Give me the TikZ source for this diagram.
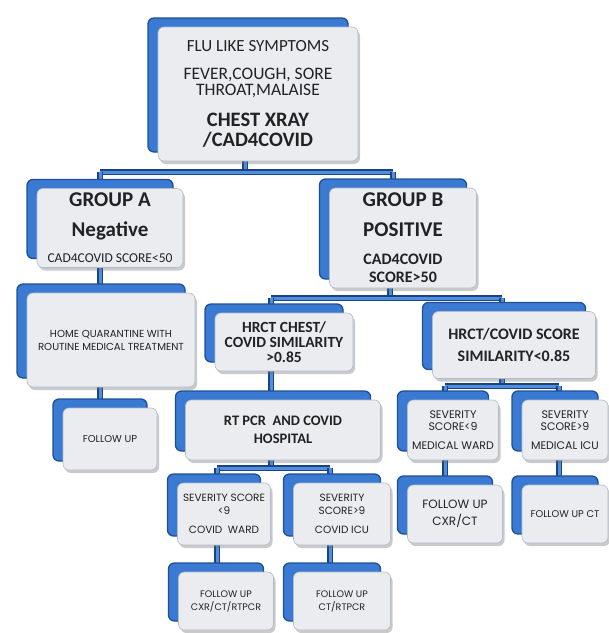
\documentclass[tikz,border=0pt]{standalone}
\usepackage{fontspec}
\setmainfont{Carlito}
\newfontfamily\geo{Poppins}
\usetikzlibrary{shadows}

\definecolor{cardblue}{HTML}{3B7AD3}
\definecolor{cardedge}{HTML}{1F4E93}
\definecolor{cardface}{HTML}{EAECF0}
\definecolor{faceedge}{HTML}{B0BCCE}
\definecolor{linkblue}{HTML}{4F8FE0}
\definecolor{linkedge}{HTML}{1C4380}
\definecolor{ink}{HTML}{222222}

\newcommand\sz[2]{\fontsize{#1}{#2}\selectfont}

\pgfdeclarelayer{bg}
\pgfsetlayers{bg,main}

\tikzset{
  card/.style={draw=faceedge, fill=cardface, line width=0.6pt, rounded corners=6pt,
    align=center, inner sep=2pt, text=ink,
    drop shadow={shadow xshift=2pt, shadow yshift=-3pt, opacity=0.35, fill=black!60},
    copy shadow={shadow xshift=-10pt, shadow yshift=9pt, fill=cardblue, draw=cardedge, line width=1.3pt}},
  link/.style={draw=linkedge, line width=1.1pt, double=linkblue, double distance=3pt}
}

\begin{document}
\begin{tikzpicture}[x=1pt,y=-1pt]
\useasboundingbox (0,0) rectangle (609,633);

% first level
\node[card, minimum width=200pt, minimum height=134pt, font=\sz{17.5}{16}] (top) at (258,94)
  {{\sz{17}{16}FLU LIKE SYMPTOMS}\\[12pt]
   FEVER,COUGH, SORE\\THROAT,MALAISE\\[15pt]
   {\sz{20.5}{16}\bfseries CHEST XRAY}\\[4pt]{\sz{20.5}{16}\bfseries /CAD4COVID}};

% groups
\node[card, minimum width=146pt, minimum height=79pt, font=\sz{21}{18}\bfseries] (grpA) at (110,228)
  {GROUP A\\[12pt]Negative\\[8pt]{\sz{13.5}{13}\mdseries CAD4COVID SCORE<50}};
\node[card, minimum width=147pt, minimum height=100pt, font=\sz{21}{18}\bfseries] (grpB) at (403,238)
  {GROUP B\\[12pt]POSITIVE\\[10pt]{\sz{16}{16}CAD4COVID}\\{\sz{16}{16}SCORE>50}};

% group A branch
\node[card, minimum width=168pt, minimum height=94pt, font=\geo\sz{10.2}{13}] (home) at (111,340)
  {HOME QUARANTINE WITH\\ROUTINE MEDICAL TREATMENT};
\node[card, minimum width=94pt, minimum height=62pt, font=\geo\sz{10}{12}] (fupA) at (110,439)
  {FOLLOW UP};

% group B branch
\node[card, minimum width=138pt, minimum height=58pt, font=\sz{15.5}{15}\bfseries] (hrctA) at (284,342)
  {HRCT CHEST/\\COVID SIMILARITY\\>0.85};
\node[card, minimum width=163pt, minimum height=67pt, font=\sz{16}{22}\bfseries] (hrctB) at (514,345)
  {HRCT/COVID SCORE\\SIMILARITY<0.85};

\node[card, minimum width=195pt, minimum height=60pt, font=\sz{14.5}{18}\bfseries] (rtpcr) at (283,430)
  {RT PCR\ \ AND COVID\\HOSPITAL};
\node[card, minimum width=93pt, minimum height=62pt, font=\geo\sz{10.5}{13}] (sevW) at (224,514)
  {SEVERITY SCORE\\<9\\[6pt]COVID\ \ WARD};
\node[card, minimum width=97pt, minimum height=62pt, font=\geo\sz{10.5}{13}] (sevI) at (342,514)
  {SEVERITY\\SCORE>9\\[6pt]COVID ICU};
\node[card, minimum width=95pt, minimum height=58pt, font=\geo\sz{9.5}{13}] (fupW) at (226,601)
  {FOLLOW UP\\CXR/CT/RTPCR};
\node[card, minimum width=97pt, minimum height=58pt, font=\geo\sz{9.5}{13}] (fupI) at (342,601)
  {FOLLOW UP\\CT/RTPCR};

\node[card, minimum width=91pt, minimum height=60pt, font=\geo\sz{11}{12}] (medW) at (453,430)
  {SEVERITY\\SCORE<9\\[7pt]MEDICAL WARD};
\node[card, minimum width=86pt, minimum height=60pt, font=\geo\sz{11}{12}] (medI) at (565,430)
  {SEVERITY\\SCORE>9\\[7pt]MEDICAL ICU};
\node[card, minimum width=95pt, minimum height=58pt, font=\geo\sz{12}{17}] (fupM) at (455,514)
  {FOLLOW UP\\CXR/CT};
\node[card, minimum width=86pt, minimum height=58pt, font=\geo\sz{9.8}{12}] (fupC) at (565,514)
  {FOLLOW UP CT};

% junctions of the connector bars
\coordinate (j0) at (245,172);
\coordinate (jA) at (100,172);
\coordinate (jB) at (393,172);
\coordinate (k0) at (390,298);
\coordinate (k1) at (271,298);
\coordinate (k2) at (502,298);
\coordinate (m0) at (271,468);
\coordinate (m1) at (217,468);
\coordinate (m2) at (330,468);
\coordinate (n0) at (502,386);
\coordinate (n1) at (445,386);
\coordinate (n2) at (559,386);

\begin{pgfonlayer}{bg}
\draw[link] (top -| j0) -- (j0);
\draw[link] (jA) -- (jB);
\draw[link] (jA) -- (fupA -| jA);
\draw[link] (jB) -- (grpB -| jB);
\draw[link] (grpB -| k0) -- (k0);
\draw[link] (k1) -- (k2);
\draw[link] (k1) -- (m0);
\draw[link] (k2) -- (n0);
\draw[link] (m1) -- (m2);
\draw[link] (m1) -- (fupW -| m1);
\draw[link] (m2) -- (fupI -| m2);
\draw[link] (n1) -- (n2);
\draw[link] (n1) -- (fupM -| n1);
\draw[link] (n2) -- (fupC -| n2);
\end{pgfonlayer}
\end{tikzpicture}
\end{document}
